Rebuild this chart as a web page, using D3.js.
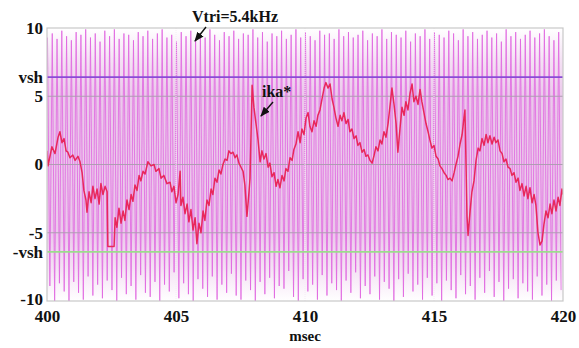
<!DOCTYPE html>
<html>
<head>
<meta charset="utf-8">
<script src="https://cdn.jsdelivr.net/npm/d3@7"></script>
<style>
  body { margin: 0; background: #fff; }
  text { font-family: "Liberation Serif", "Times New Roman", serif; font-weight: bold; fill: #111; }
</style>
</head>
<body>
<svg id="chart" width="579" height="348"></svg>
<script>
// ---- data ----
let xTicks = [400, 405, 410, 415, 420];
let vsh = 6.4;
let yTicks = [10, vsh, 5, 0, -5, -vsh, -10];
let yTickLabels = ["10", "vsh", "5", "0", "-5", "-vsh", "-10"];
let carrierFreq = 5.4; // kHz -> cycles per msec
// peak heights of each carrier cycle, as they show in the picture
let topPeaks = [
  9.3, 9.6, 9.2, 9.8, 9.4, 9.1, 9.7, 9.5, 9.9, 9.3, 9.6, 9.0, 9.8, 9.4, 9.9, 9.2, 9.6, 9.5, 9.1, 9.7,
  9.4, 9.8, 9.2, 9.6, 9.9, 9.3, 9.5, 9.0, 9.7, 9.4, 9.8, 9.2, 9.6, 9.3, 9.9, 9.5, 9.1, 9.7, 9.4, 9.8,
  9.2, 9.6, 9.5, 9.9, 9.3, 9.7, 9.0, 9.6, 9.4, 9.8, 9.2, 9.5, 9.9, 9.3, 9.7, 9.4, 9.1, 9.8, 9.5, 9.6,
  9.2, 9.9, 9.4, 9.7, 9.3, 9.5, 9.8, 9.1, 9.6, 9.4, 9.9, 9.2, 9.7, 9.5, 9.3, 9.8, 9.0, 9.6, 9.4, 9.9,
  9.2, 9.7, 9.5, 9.3, 9.8, 9.6, 9.1, 9.9, 9.4, 9.7, 9.2, 9.5, 9.8, 9.3, 9.6, 9.0, 9.9, 9.4, 9.7, 9.2,
  9.5, 9.8, 9.3, 9.6, 9.9, 9.4, 9.1, 9.7
];
let bottomPeaks = [
  -8.9, -10.0, -8.7, -9.3, -10.0, -8.6, -9.4, -9.9, -8.2, -9.6, -8.8, -9.8, -8.5, -9.2, -10.0, -8.3, -9.5, -8.9, -9.9, -8.1,
  -9.4, -9.7, -8.6, -10.0, -8.8, -9.3, -7.9, -9.8, -8.7, -9.5, -10.0, -8.4, -9.1, -9.7, -8.2, -9.9, -8.8, -9.4, -8.0, -9.6,
  -9.9, -8.5, -9.2, -10.0, -8.6, -9.5, -8.3, -9.8, -8.9, -9.1, -7.8, -9.7, -10.0, -8.4, -9.3, -8.8, -9.9, -8.1, -9.6, -8.7,
  -9.2, -10.0, -8.5, -9.4, -7.9, -9.8, -8.9, -9.5, -8.2, -9.9, -8.6, -9.1, -10.0, -8.4, -9.7, -8.0, -9.3, -8.8, -9.9, -8.3,
  -9.6, -8.7, -10.0, -8.5, -9.2, -9.8, -8.1, -9.5, -8.9, -9.9, -8.3, -9.4, -7.8, -9.7, -8.6, -10.0, -9.1, -8.4, -9.8, -8.7,
  -9.3, -9.9, -8.2, -9.6, -8.8, -10.0, -8.5, -9.2
];

// ika* reference current (msec, value)
let ikaTime = [
  400.0, 400.04, 400.19, 400.31, 400.43, 400.5, 400.58, 400.66, 400.74, 400.81, 400.89, 401.0, 401.09, 401.2, 401.28,
  401.36, 401.43, 401.51, 401.55, 401.63, 401.71, 401.78, 401.86, 401.94, 402.02, 402.09, 402.17, 402.25, 402.33, 402.36,
  402.6, 402.64, 402.71, 402.79, 402.87, 402.95, 403.02, 403.1, 403.18, 403.26, 403.33, 403.41, 403.49, 403.57, 403.64,
  403.72, 403.8, 403.91, 404.03, 404.15, 404.22, 404.34, 404.42, 404.53, 404.65, 404.77, 404.84, 404.92, 405.0, 405.08,
  405.16, 405.19, 405.27, 405.35, 405.43, 405.5, 405.58, 405.66, 405.74, 405.81, 405.89, 405.97, 406.05, 406.12, 406.2,
  406.28, 406.36, 406.43, 406.51, 406.59, 406.67, 406.74, 406.82, 406.9, 406.98, 407.05, 407.13, 407.21, 407.29, 407.36,
  407.44, 407.52, 407.6, 407.67, 407.75, 407.83, 407.87, 407.95, 408.02, 408.1, 408.18, 408.26, 408.33, 408.41, 408.49,
  408.57, 408.64, 408.72, 408.8, 408.88, 408.95, 409.03, 409.11, 409.19, 409.26, 409.34, 409.42, 409.5, 409.57, 409.65,
  409.73, 409.81, 409.88, 409.96, 410.04, 410.12, 410.19, 410.27, 410.35, 410.43, 410.5, 410.58, 410.66, 410.74, 410.81,
  410.89, 410.97, 411.05, 411.12, 411.2, 411.28, 411.36, 411.43, 411.51, 411.59, 411.67, 411.74, 411.82, 411.9, 411.98,
  412.05, 412.13, 412.21, 412.29, 412.36, 412.44, 412.52, 412.6, 412.67, 412.75, 412.83, 412.91, 412.98, 413.06, 413.14,
  413.22, 413.29, 413.37, 413.45, 413.53, 413.6, 413.68, 413.76, 413.84, 413.91, 413.99, 414.07, 414.15, 414.22, 414.3,
  414.38, 414.46, 414.53, 414.61, 414.69, 414.77, 414.84, 414.92, 415.0, 415.08, 415.16, 415.23, 415.31, 415.39, 415.47,
  415.54, 415.62, 415.7, 415.78, 415.85, 415.93, 416.01, 416.09, 416.16, 416.2, 416.28, 416.32, 416.4, 416.47, 416.55,
  416.63, 416.71, 416.78, 416.86, 416.94, 417.02, 417.09, 417.17, 417.25, 417.33, 417.4, 417.48, 417.56, 417.64, 417.71,
  417.79, 417.87, 417.95, 418.02, 418.1, 418.18, 418.26, 418.33, 418.41, 418.49, 418.57, 418.64, 418.72, 418.8, 418.88,
  418.95, 419.03, 419.11, 419.19, 419.26, 419.34, 419.42, 419.5, 419.57, 419.65, 419.73, 419.81, 419.88, 419.96, 420.0
];
let ikaValue = [
  1.0, -0.1, 1.3, 0.8, 2.0, 2.4, 1.6, 1.9, 1.0, 0.9, 0.5, 0.7, 0.3, 0.6, 0.2,
  -0.6, -1.9, -2.6, -3.5, -2.0, -2.8, -1.6, -2.5, -1.8, -2.9, -1.4, -2.2, -1.6, -2.0, -6.0,
  -6.0, -3.9, -4.6, -3.2, -4.3, -3.4, -4.1, -2.6, -3.3, -2.2, -2.7, -1.5, -1.9, -0.8, -1.2,
  -0.5, -0.7, 0.2, -0.1, 0.0, -0.5, -0.3, -1.0, -0.8, -1.4, -1.3, -2.0, -1.6, -2.8, -2.2,
  -0.5, -3.0, -2.4, -3.6, -2.9, -4.2, -3.3, -4.8, -3.9, -5.8, -4.3, -5.0, -3.4, -4.1, -2.6,
  -3.0, -1.8, -2.2, -1.0, -1.3, -0.4, -0.7, 0.0, 0.4, 0.3, 1.0, 0.8, 0.9, 0.5, 0.7,
  0.1, -0.2, -0.5, -1.5, -3.8, -2.0, -1.0, 5.8, 4.2, 3.0, 1.8, 0.2, 1.0, 0.4, 0.8,
  -0.2, 0.1, -0.9, -0.6, -1.6, -1.1, -1.7, -0.8, -1.2, -0.3, -0.5, 0.5, 0.3, 1.1, 1.5,
  2.4, 1.6, 2.6, 2.2, 3.4, 3.8, 2.8, 2.4, 3.2, 2.8, 3.6, 4.0, 4.8, 5.6, 6.0,
  5.6, 5.9, 4.8, 4.2, 3.4, 2.8, 3.6, 3.2, 3.8, 3.0, 3.3, 2.4, 2.6, 1.9, 2.1,
  1.4, 1.6, 0.9, 1.1, 0.6, 0.7, 0.3, 0.1, 0.6, 1.3, 1.0, 1.8, 1.5, 2.4, 2.0,
  3.0, 4.2, 5.6, 4.4, 3.0, 0.9, 2.6, 4.2, 3.6, 4.6, 4.0, 5.2, 5.9, 4.6, 5.0,
  4.4, 5.5, 4.6, 3.8, 3.0, 2.4, 1.8, 1.2, 1.4, 0.6, 0.4, -0.1, -0.3, -0.6, -0.8,
  -1.1, -1.0, -1.2, -0.6, 0.0, 0.6, 1.5, 2.2, 3.4, 4.0, -3.8, -5.2, -3.4, -2.0, -1.2,
  0.3, 1.2, 1.0, 1.9, 1.4, 2.2, 1.6, 2.1, 1.5, 2.0, 1.6, 1.8, 1.0, 0.8, 0.2,
  0.4, -0.2, -0.3, -0.8, -0.6, -1.3, -1.0, -1.9, -1.4, -2.3, -1.6, -2.5, -1.7, -2.8, -2.2,
  -3.0, -5.0, -5.9, -5.6, -4.4, -3.4, -3.9, -2.9, -3.6, -2.6, -3.4, -2.4, -3.0, -1.8, -2.2
];

// ---- layout ----
let svg = d3.select("#chart");
let margin = {top: 28, right: 16, bottom: 47, left: 47};
let width = 579, height = 348;

let x = d3.scaleLinear().domain([400, 420]).range([margin.left, width - margin.right]);
let y = d3.scaleLinear().domain([-10, 10]).range([height - margin.bottom, margin.top]);

let defs = svg.append("defs");
defs.append("clipPath").attr("id", "plotClip")
    .append("rect")
    .attr("x", x(400)).attr("y", y(10))
    .attr("width", x(420) - x(400)).attr("height", y(-10) - y(10));

// pale haze the dense carrier leaves between its strokes
let haze = defs.append("linearGradient")
    .attr("id", "haze")
    .attr("x1", 0).attr("y1", 0).attr("x2", 0).attr("y2", 1);
[[0, 0], [0.12, 0.5], [0.25, 0.9], [0.75, 0.9], [0.88, 0.5], [1, 0]].forEach(s => {
    haze.append("stop")
        .attr("offset", s[0])
        .attr("stop-color", "#e9c2e9")
        .attr("stop-opacity", s[1]);
});

let plot = svg.append("g").attr("clip-path", "url(#plotClip)");

plot.append("rect")
    .attr("x", x(400)).attr("y", y(10))
    .attr("width", x(420) - x(400)).attr("height", y(-10) - y(10))
    .attr("fill", "url(#haze)");

// carrier triangle: one top and one bottom corner per cycle
let carrier = [];
topPeaks.forEach((v, k) => {
    carrier.push([400 + (k + 0.1) / carrierFreq, v]);
    carrier.push([400 + (k + 0.6) / carrierFreq, bottomPeaks[k]]);
});

let line = d3.line().x(d => x(d[0])).y(d => y(d[1]));

plot.append("path")
    .datum(carrier)
    .attr("fill", "none")
    .attr("stroke", "#e065e0")
    .attr("stroke-width", 0.8)
    .attr("d", line);

// grid lines at 5, 0, -5
plot.selectAll(".hgrid")
    .data([5, 0, -5])
    .enter().append("line")
    .attr("class", "hgrid")
    .attr("x1", x(400)).attr("x2", x(420))
    .attr("y1", d => y(d)).attr("y2", d => y(d))
    .attr("stroke", "#b09cb4")
    .attr("stroke-width", 1);

plot.selectAll(".vgrid")
    .data([405, 410, 415])
    .enter().append("line")
    .attr("class", "vgrid")
    .attr("x1", d => x(d)).attr("x2", d => x(d))
    .attr("y1", y(10)).attr("y2", y(-10))
    .attr("stroke", "#f4eef4")
    .attr("stroke-dasharray", "1,1")
    .attr("stroke-width", 1);

// ika*
let ika = ikaTime.map((t, i) => [t, ikaValue[i]]);
plot.append("path")
    .datum(ika)
    .attr("fill", "none")
    .attr("stroke", "#e8285c")
    .attr("stroke-width", 1.5)
    .attr("stroke-linejoin", "round")
    .attr("d", line);

// vsh / -vsh levels
plot.append("line")
    .attr("x1", x(400)).attr("x2", x(420))
    .attr("y1", y(vsh)).attr("y2", y(vsh))
    .attr("stroke", "#8a4bd6").attr("stroke-width", 1.6);
plot.append("line")
    .attr("x1", x(400)).attr("x2", x(420))
    .attr("y1", y(-vsh)).attr("y2", y(-vsh))
    .attr("stroke", "#9cdc8c").attr("stroke-width", 1.6);

// frame
svg.append("rect")
    .attr("x", x(400)).attr("y", y(10))
    .attr("width", x(420) - x(400)).attr("height", y(-10) - y(10))
    .attr("fill", "none")
    .attr("stroke", "#c8c8c8")
    .attr("stroke-width", 1.2);

// axes
let xAxis = svg.append("g")
    .attr("transform", "translate(0," + y(-10) + ")")
    .call(d3.axisBottom(x).tickValues(xTicks).tickSize(0).tickPadding(9).tickFormat(d3.format("d")));
xAxis.select(".domain").remove();
xAxis.selectAll("text").style("font-size", "17px").attr("font-family", null);

let yAxis = svg.append("g")
    .attr("transform", "translate(" + x(400) + ",0)")
    .call(d3.axisLeft(y).tickValues(yTicks).tickSize(0).tickPadding(4).tickFormat((d, i) => yTickLabels[i]));
yAxis.select(".domain").remove();
yAxis.selectAll("text").style("font-size", "17px").attr("font-family", null);
// keep "-10" clear of the "400" label below it
yAxis.selectAll("text").filter((d, i) => i === yTicks.length - 1).attr("dy", "0.2em");

svg.append("text")
    .attr("x", x(410))
    .attr("y", 341)
    .attr("text-anchor", "middle")
    .style("font-size", "15px")
    .text("msec");

// annotations
defs.append("marker")
    .attr("id", "arrow")
    .attr("viewBox", "0 0 10 10")
    .attr("refX", 9).attr("refY", 5)
    .attr("markerWidth", 7).attr("markerHeight", 7)
    .attr("orient", "auto")
    .append("path")
    .attr("d", "M0,1 L10,5 L0,9 Z")
    .attr("fill", "#111");

svg.append("text")
    .attr("x", 192).attr("y", 22)
    .style("font-size", "16px")
    .text("Vtri=5.4kHz");
svg.append("line")
    .attr("x1", 206).attr("y1", 27)
    .attr("x2", 195).attr("y2", 41)
    .attr("stroke", "#111").attr("stroke-width", 1.4)
    .attr("marker-end", "url(#arrow)");

svg.append("text")
    .attr("x", 262).attr("y", 97)
    .style("font-size", "16px")
    .text("ika*");
svg.append("line")
    .attr("x1", 273).attr("y1", 102)
    .attr("x2", 261).attr("y2", 116)
    .attr("stroke", "#111").attr("stroke-width", 1.4)
    .attr("marker-end", "url(#arrow)");
</script>
</body>
</html>
